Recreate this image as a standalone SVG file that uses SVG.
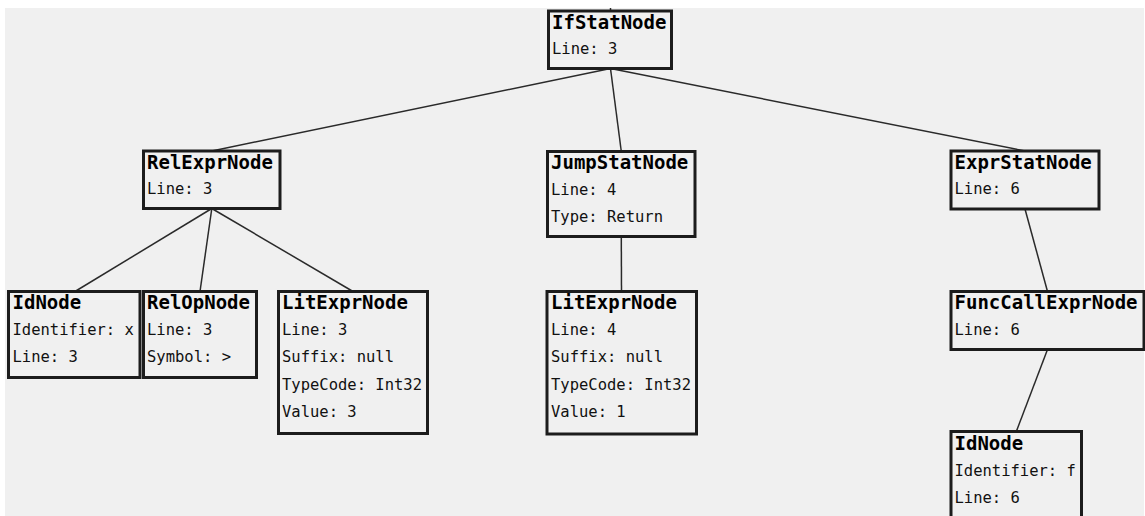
<svg xmlns="http://www.w3.org/2000/svg" width="1145" height="516" viewBox="0 0 1145 516">
<style>
.bg{fill:#f0f0f0}
.box{fill:#f0f0f0;stroke:#1c1c1c;stroke-width:3}
.t{font-family:"DejaVu Sans Mono","Liberation Mono",monospace;font-size:19px;font-weight:bold;fill:#000}
.f{font-family:"DejaVu Sans Mono","Liberation Mono",monospace;font-size:15.5px;fill:#111}
.c line{stroke:#2a2a2a;stroke-width:1.5}
</style>
<rect x="0" y="0" width="1145" height="516" fill="#ffffff"/>
<rect class="bg" x="5" y="8" width="1139" height="508"/>
<g id="connectors" class="c">
<line x1="610.5" y1="8" x2="610.5" y2="11"/>
<line x1="610.5" y1="68.5" x2="211.8" y2="151"/>
<line x1="610.5" y1="68.5" x2="621.3" y2="151.5"/>
<line x1="610.5" y1="68.5" x2="1025" y2="151"/>
<line x1="211.8" y1="208.5" x2="75" y2="291.5"/>
<line x1="211.8" y1="208.5" x2="200" y2="291.5"/>
<line x1="211.8" y1="208.5" x2="353" y2="291.5"/>
<line x1="621.3" y1="236.5" x2="621.5" y2="291.5"/>
<line x1="1025" y1="209" x2="1047.5" y2="291.5"/>
<line x1="1047.5" y1="349.5" x2="1016.3" y2="431.5"/>
</g>
<g id="IfStatNode">
<rect class="box" x="548.5" y="11" width="123" height="57.5"/>
<text class="t" x="552" y="28.5">IfStatNode</text>
<text class="f" x="552" y="54">Line: 3</text>
</g>
<g id="RelExprNode">
<rect class="box" x="143.5" y="151" width="136.5" height="57.5"/>
<text class="t" x="147" y="168.5">RelExprNode</text>
<text class="f" x="147" y="194">Line: 3</text>
</g>
<g id="JumpStatNode">
<rect class="box" x="547.5" y="151.5" width="147.5" height="85"/>
<text class="t" x="551" y="169">JumpStatNode</text>
<text class="f" x="551" y="194.5">Line: 4</text>
<text class="f" x="551" y="222">Type: Return</text>
</g>
<g id="ExprStatNode">
<rect class="box" x="951" y="151" width="148" height="58"/>
<text class="t" x="954.5" y="168.5">ExprStatNode</text>
<text class="f" x="954.5" y="194">Line: 6</text>
</g>
<g id="IdNodeX">
<rect class="box" x="8.5" y="291.5" width="131.5" height="86"/>
<text class="t" x="12.5" y="309">IdNode</text>
<text class="f" x="12.5" y="334.5">Identifier: x</text>
<text class="f" x="12.5" y="362">Line: 3</text>
</g>
<g id="RelOpNode">
<rect class="box" x="143.5" y="291.5" width="113" height="86"/>
<text class="t" x="147" y="309">RelOpNode</text>
<text class="f" x="147" y="334.5">Line: 3</text>
<text class="f" x="147" y="362">Symbol: &gt;</text>
</g>
<g id="LitExprNode3">
<rect class="box" x="278.5" y="291.5" width="149" height="142"/>
<text class="t" x="282" y="309">LitExprNode</text>
<text class="f" x="282" y="334.5">Line: 3</text>
<text class="f" x="282" y="362">Suffix: null</text>
<text class="f" x="282" y="389.5">TypeCode: Int32</text>
<text class="f" x="282" y="417">Value: 3</text>
</g>
<g id="LitExprNode4">
<rect class="box" x="547" y="291.5" width="149.5" height="142.5"/>
<text class="t" x="551" y="309">LitExprNode</text>
<text class="f" x="551" y="334.5">Line: 4</text>
<text class="f" x="551" y="362">Suffix: null</text>
<text class="f" x="551" y="389.5">TypeCode: Int32</text>
<text class="f" x="551" y="417">Value: 1</text>
</g>
<g id="FuncCallExprNode">
<rect class="box" x="951" y="291.5" width="193" height="58"/>
<text class="t" x="954.5" y="309">FuncCallExprNode</text>
<text class="f" x="954.5" y="334.5">Line: 6</text>
</g>
<g id="IdNodeF">
<rect class="box" x="951" y="431.5" width="130.5" height="95"/>
<text class="t" x="954.5" y="449.5">IdNode</text>
<text class="f" x="954.5" y="475.5">Identifier: f</text>
<text class="f" x="954.5" y="503">Line: 6</text>
</g>
</svg>
